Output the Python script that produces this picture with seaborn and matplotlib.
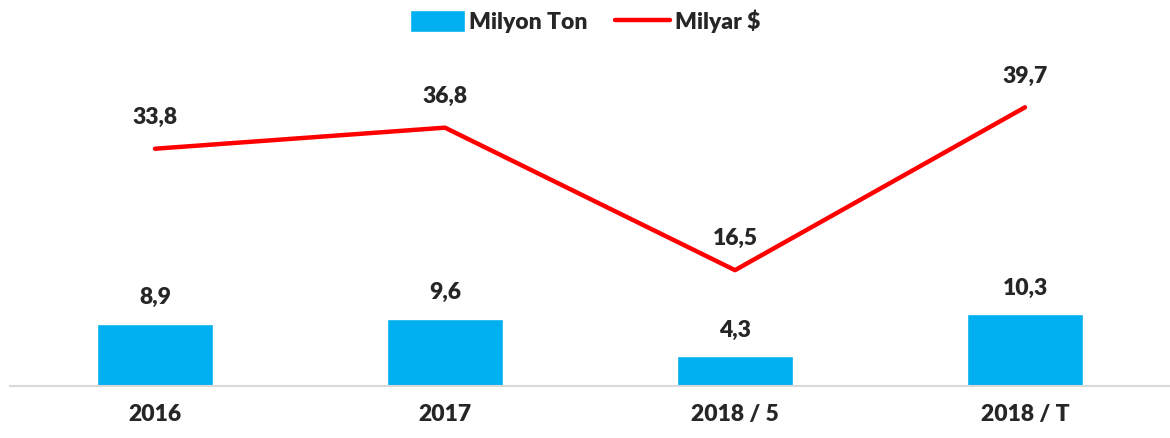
import matplotlib.pyplot as plt
import seaborn as sns
import pandas as pd

categories = ['2016', '2017', '2018 / 5', '2018 / T']
milyon_ton = [8.9, 9.6, 4.3, 10.3]
milyar_usd = [33.8, 36.8, 16.5, 39.7]

sns.set_style('white')
plt.rcParams['font.family'] = ['Lato', 'DejaVu Sans']
plt.rcParams['font.weight'] = 'heavy'

df = pd.DataFrame({'kategori': categories, 'ton': milyon_ton, 'usd': milyar_usd})

fig = plt.figure(figsize=(11.7, 4.38), dpi=100)
ax = fig.add_axes([10 / 1170, 1 - 386 / 438, 1160 / 1170, 351 / 438])

# bar serisi
sns.barplot(data=df, x='kategori', y='ton', color='#00B0F0', saturation=1,
            width=0.4, ax=ax, label='Milyon Ton')
# çizgi serisi
sns.lineplot(data=df, x='kategori', y='usd', color='#FF0000', linewidth=3.2,
             ax=ax, label='Milyar $', sort=False)

ax.set_ylim(0, 50)
ax.set_xlim(-0.5, 3.5)

for i, v in enumerate(milyon_ton):
    ax.annotate(f'{v:.1f}'.replace('.', ','), (i, v), xytext=(0, 11),
                textcoords='offset points', ha='center', va='bottom',
                fontsize=16.5, fontweight='heavy')
for i, v in enumerate(milyar_usd):
    ax.annotate(f'{v:.1f}'.replace('.', ','), (i, v), xytext=(0, 15),
                textcoords='offset points', ha='center', va='bottom',
                fontsize=16.5, fontweight='heavy')

ax.set_xlabel('')
ax.set_ylabel('')
ax.set_yticks([])
ax.tick_params(axis='x', length=0, labelsize=16.5, pad=13)
for lbl in ax.get_xticklabels():
    lbl.set_fontweight('heavy')
for s in ['top', 'right', 'left']:
    ax.spines[s].set_visible(False)
ax.spines['bottom'].set_color('#D9D9D9')
ax.spines['bottom'].set_linewidth(1.5)

handles, labels = ax.get_legend_handles_labels()
order = [labels.index('Milyon Ton'), labels.index('Milyar $')]
fig.legend([handles[k] for k in order], [labels[k] for k in order],
           loc='upper center', bbox_to_anchor=(0.5, 1.025), ncol=2, frameon=False,
           fontsize=16.5, handlelength=2.4, handleheight=1.1,
           columnspacing=1.2, handletextpad=0.2)
ax.get_legend().remove()

fig.savefig('out.png', dpi=100)
